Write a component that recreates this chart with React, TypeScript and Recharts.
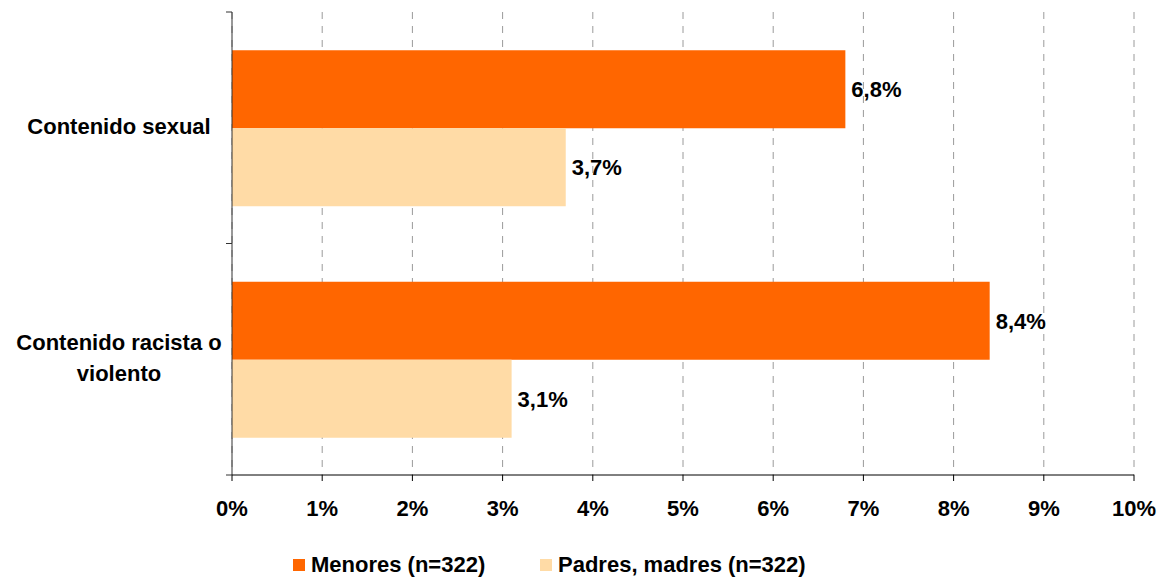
import React from "react";
import {
  BarChart,
  Bar,
  XAxis,
  YAxis,
  CartesianGrid,
  Legend,
  LabelList,
} from "recharts";

const categories = ["Contenido sexual", "Contenido racista o violento"];
const menores = [6.8, 8.4];
const padres = [3.7, 3.1];
const xTicks = [0, 1, 2, 3, 4, 5, 6, 7, 8, 9, 10];

const data = categories.map((name, i) => ({
  name,
  menores: menores[i],
  padres: padres[i],
}));

const W = 1163;
const H = 578;
const TOP = 12;
const PLOT_BOTTOM = 475;
const BAND = (PLOT_BOTTOM - TOP) / categories.length;

const COLORS = {
  menores: "#FF6600",
  padres: "#FFDBA6",
  grid: "#9a9a9a",
  axis: "#333333",
  text: "#000000",
};

const FONT = "Arial, 'Liberation Sans', Helvetica, sans-serif";
const FS = 22;

function fmtPct(v: number): string {
  return v.toFixed(1).replace(".", ",") + "%";
}

function wrap(label: string, max: number): string[] {
  const words = label.split(" ");
  const lines: string[] = [];
  let cur = "";
  for (const w of words) {
    const next = cur ? cur + " " + w : w;
    if (next.length > max && cur) {
      lines.push(cur);
      cur = w;
    } else {
      cur = next;
    }
  }
  if (cur) lines.push(cur);
  return lines;
}

function CategoryTick(props: any) {
  const { y, payload } = props;
  const lines = wrap(String(payload.value), 19);
  const lh = 31;
  return (
    <g>
      <line x1={226} x2={232} y1={y - BAND / 2} y2={y - BAND / 2} stroke={COLORS.axis} />
      <line x1={226} x2={232} y1={y + BAND / 2} y2={y + BAND / 2} stroke={COLORS.axis} />
      <text
        textAnchor="middle"
        fontFamily={FONT}
        fontWeight="bold"
        fontSize={FS}
        fill={COLORS.text}
      >
        {lines.map((l, i) => (
          <tspan key={i} x={119} y={y + 6 + (i - (lines.length - 1) / 2) * lh}>
            {l}
          </tspan>
        ))}
      </text>
    </g>
  );
}

function PctTick(props: any) {
  const { x, payload } = props;
  return (
    <text
      x={x}
      y={PLOT_BOTTOM + 41}
      textAnchor="middle"
      fontFamily={FONT}
      fontWeight="bold"
      fontSize={FS}
      fill={COLORS.text}
    >
      {payload.value}%
    </text>
  );
}

function LegendBox() {
  const items = [
    { label: "Menores (n=322)", color: COLORS.menores, left: 293 },
    { label: "Padres, madres (n=322)", color: COLORS.padres, left: 540 },
  ];
  return (
    <div style={{ position: "relative", height: 40, width: W }}>
      {items.map((it) => (
        <div
          key={it.label}
          style={{
            position: "absolute",
            left: it.left,
            top: 14,
            display: "flex",
            alignItems: "center",
            fontFamily: FONT,
            fontWeight: "bold",
            fontSize: FS,
            color: COLORS.text,
            whiteSpace: "nowrap",
            lineHeight: "26px",
          }}
        >
          <span
            style={{
              display: "inline-block",
              width: 12,
              height: 12,
              background: it.color,
              marginRight: 6,
            }}
          />
          {it.label}
        </div>
      ))}
    </div>
  );
}

export default function App() {
  return (
    <div style={{ position: "absolute", left: 0, top: 0, width: W, height: H, background: "#fff" }}>
      <BarChart
        width={W}
        height={H}
        data={data}
        layout="vertical"
        margin={{ top: TOP, right: 29, bottom: 0, left: 0 }}
        barCategoryGap="16.5%"
        barGap={0}
      >
        <CartesianGrid
          horizontal={false}
          stroke={COLORS.grid}
          strokeDasharray="7 7"
        />
        <XAxis
          type="number"
          domain={[0, 10]}
          ticks={xTicks}
          interval={0}
          height={63}
          stroke="#000"
          tickSize={6}
          tick={<PctTick />}
        />
        <YAxis
          type="category"
          dataKey="name"
          width={232}
          stroke={COLORS.axis}
          tickLine={false}
          tick={<CategoryTick />}
          interval={0}
        />
        <Legend verticalAlign="bottom" content={() => <LegendBox />} wrapperStyle={{ left: 0, width: W }} />
        <Bar dataKey="menores" name="Menores (n=322)" fill={COLORS.menores} isAnimationActive={false}>
          <LabelList
            dataKey="menores"
            position="right"
            offset={6}
            formatter={(v: any) => fmtPct(Number(v))}
            style={{ fontFamily: FONT, fontWeight: "bold", fontSize: FS, fill: COLORS.text }}
          />
        </Bar>
        <Bar dataKey="padres" name="Padres, madres (n=322)" fill={COLORS.padres} isAnimationActive={false}>
          <LabelList
            dataKey="padres"
            position="right"
            offset={6}
            formatter={(v: any) => fmtPct(Number(v))}
            style={{ fontFamily: FONT, fontWeight: "bold", fontSize: FS, fill: COLORS.text }}
          />
        </Bar>
      </BarChart>
    </div>
  );
}
